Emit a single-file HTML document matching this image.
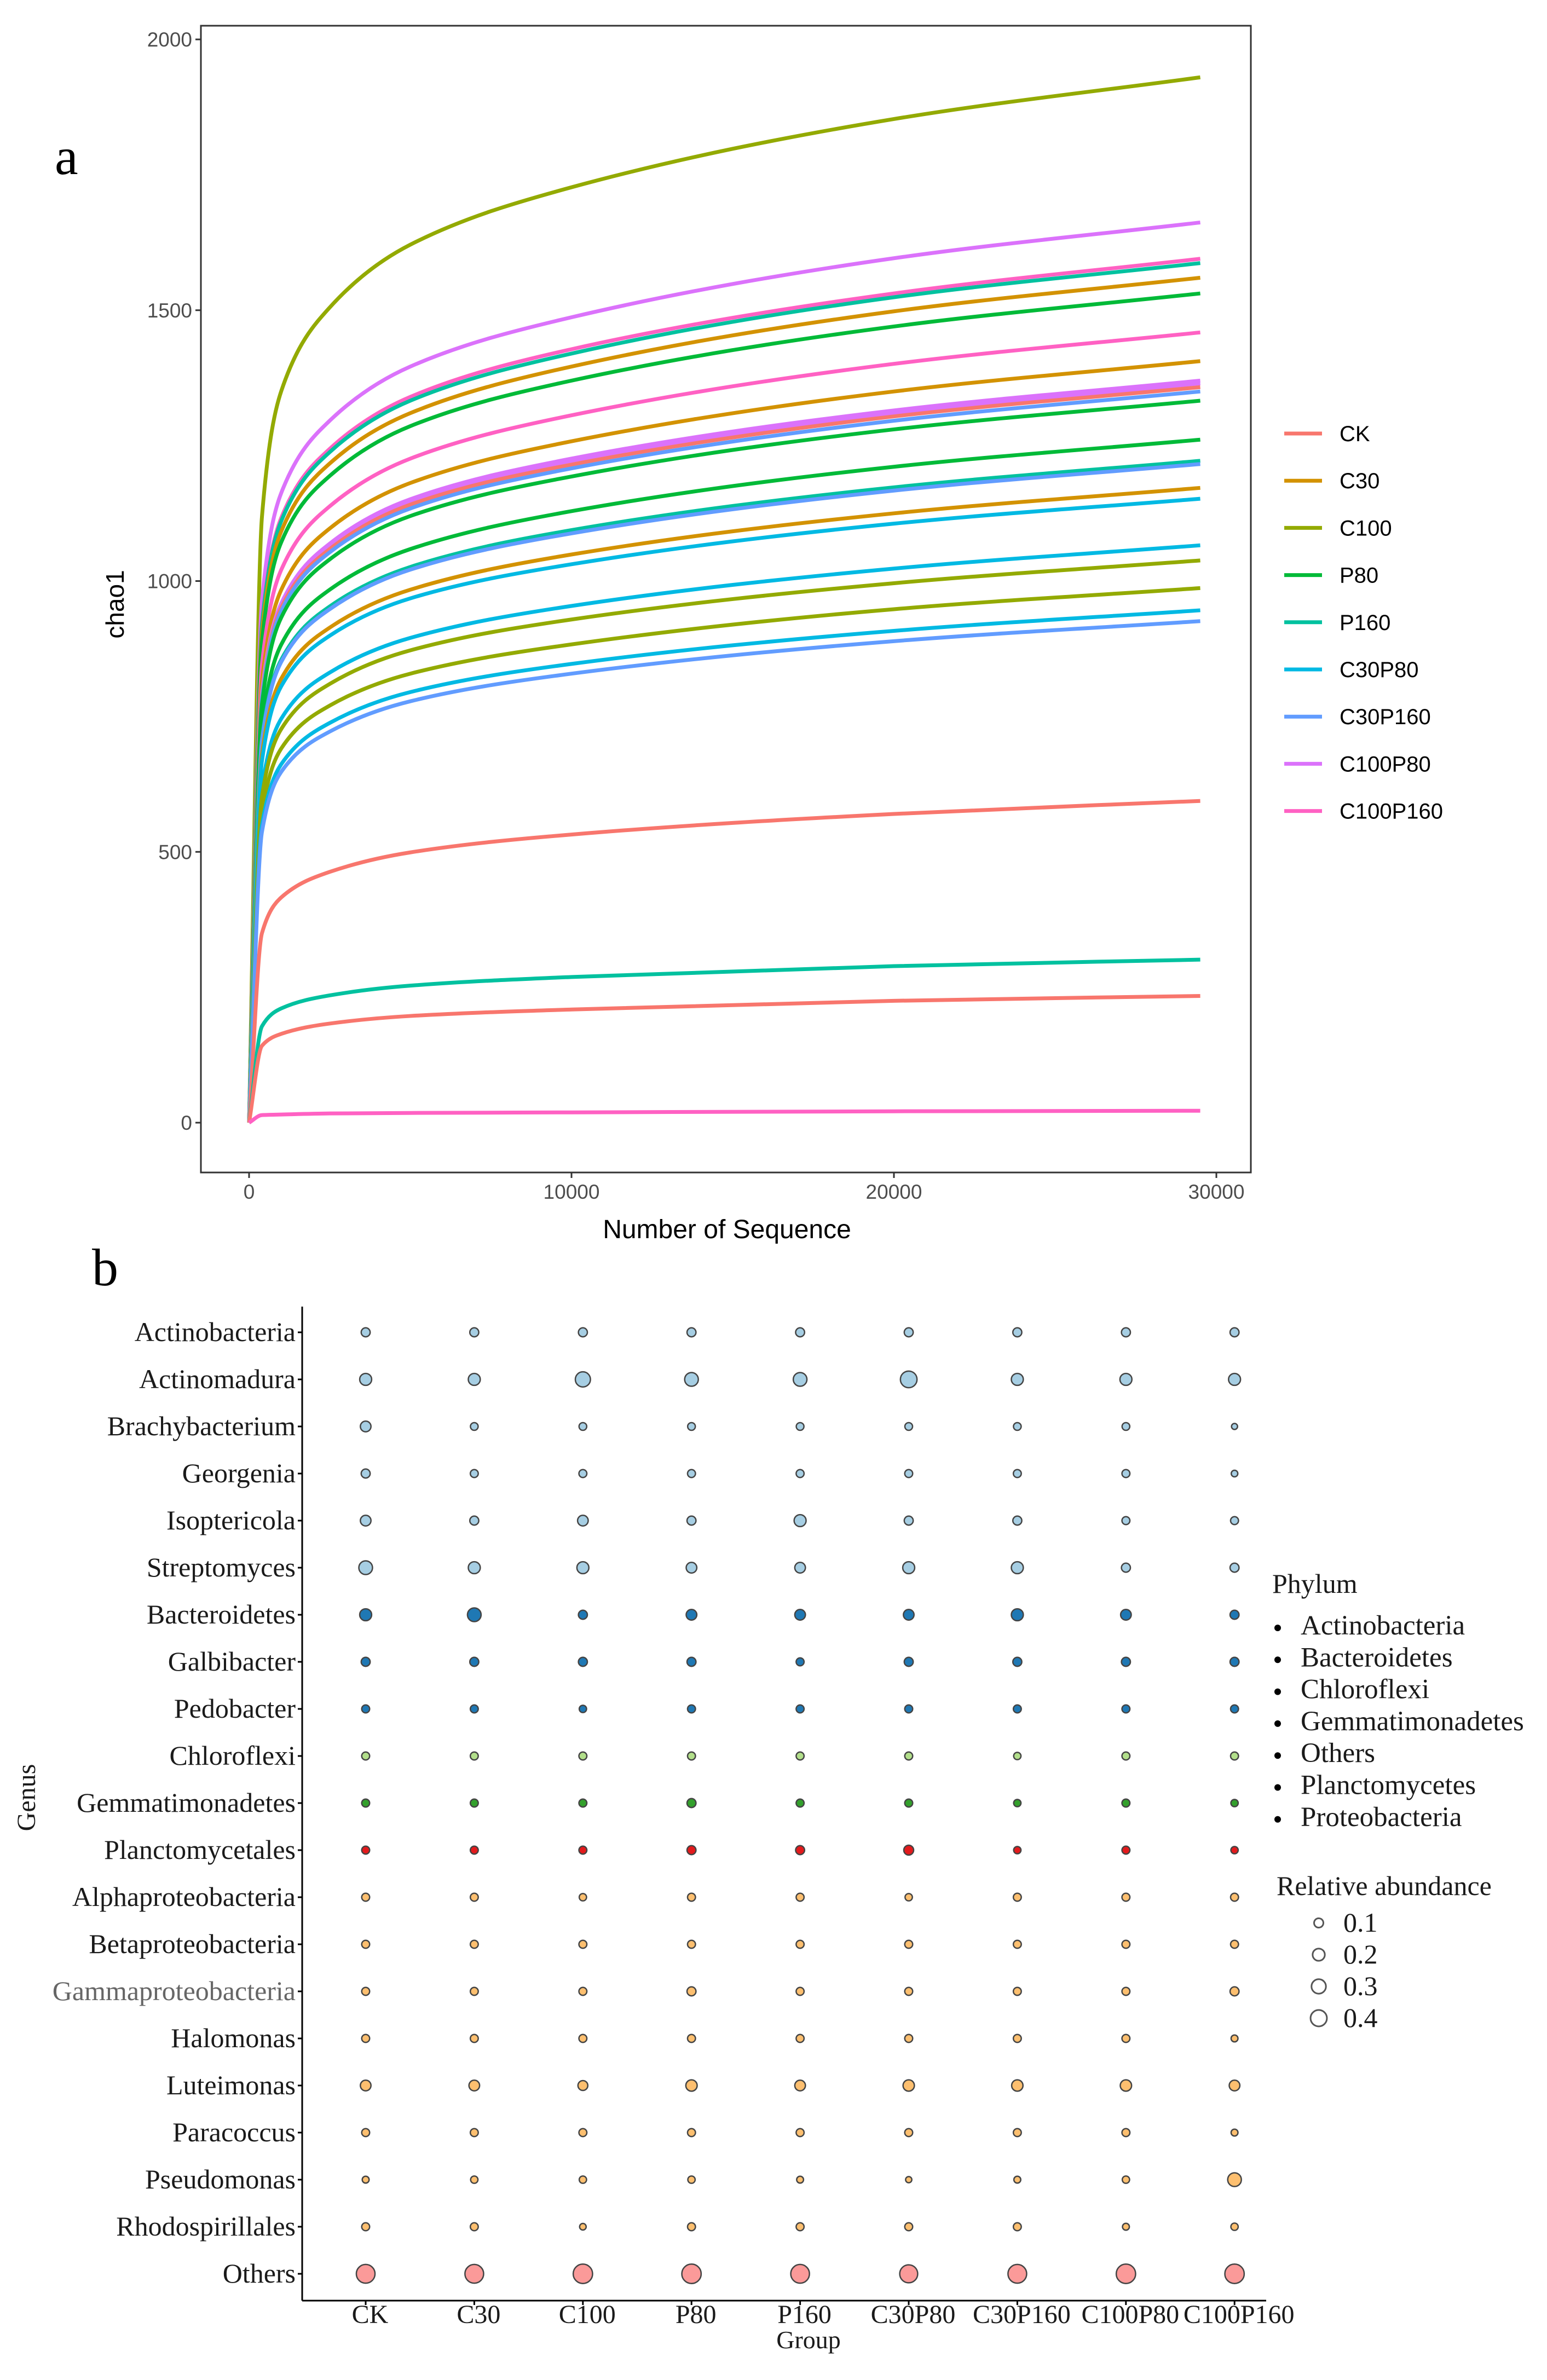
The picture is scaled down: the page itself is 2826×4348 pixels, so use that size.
<!DOCTYPE html>
<html><head><meta charset="utf-8">
<style>
html,body{margin:0;padding:0;background:#fff;}
svg{display:block;}
</style></head>
<body>
<svg id="fig" width="2826" height="4348" viewBox="0 0 2826 4348" xmlns="http://www.w3.org/2000/svg"></svg>
<script>
// ---------- Panel a data ----------
const sampleX = [0, 400, 1000, 2500, 5000, 10000, 20000, 29500];
const groups = ["CK","C30","C100","P80","P160","C30P80","C30P160","C100P80","C100P160"];
const groupColors = ["#F8766D","#D39200","#93AA00","#00BA38","#00C19F","#00B9E3","#619CFF","#DB72FB","#FF61C3"];
const seriesGroup = ["C100","C100P80","C100P160","P160","C30","P80","C100P160","C30","C100P80","C100P80","CK","C30P160","P80","P80","P160","C30P160","C30","C30P80","C30P80","C100","C100","C30P80","C30P160","CK","P160","CK","C100P160"];
const seriesValues = [
[0,1119,1351,1505,1621,1727,1853,1930],
[0,964,1163,1296,1396,1487,1596,1662],
[0,925,1117,1244,1340,1428,1531,1595],
[0,920,1111,1238,1333,1420,1524,1587],
[0,905,1092,1217,1310,1396,1498,1560],
[0,888,1072,1194,1286,1370,1470,1531],
[0,846,1021,1138,1226,1306,1401,1459],
[0,815,984,1097,1181,1258,1350,1406],
[0,795,959,1069,1151,1226,1315,1370],
[0,792,956,1065,1147,1222,1310,1365],
[0,788,951,1059,1141,1215,1304,1358],
[0,783,945,1053,1134,1208,1296,1350],
[0,773,933,1040,1120,1193,1280,1333],
[0,731,883,984,1059,1129,1211,1261],
[0,709,855,953,1026,1094,1173,1222],
[0,705,851,948,1021,1088,1167,1216],
[0,680,820,914,984,1049,1125,1172],
[0,668,806,899,968,1031,1106,1152],
[0,618,746,831,895,954,1023,1066],
[0,602,727,810,872,929,996,1038],
[0,572,691,770,829,883,948,987],
[0,549,662,738,795,847,908,946],
[0,537,648,722,778,829,889,926],
[0,350,416,463,499,532,570,594],
[0,178,211,235,253,269,289,301],
[0,142,164,183,197,209,225,234],
[0,14,15,17,18,19,21,22]
];
const xTicks = [0,10000,20000,30000];
const yTicks = [0,500,1000,1500,2000];

// ---------- Panel b data ----------
const genera = ["Actinobacteria","Actinomadura","Brachybacterium","Georgenia","Isoptericola","Streptomyces","Bacteroidetes","Galbibacter","Pedobacter","Chloroflexi","Gemmatimonadetes","Planctomycetales","Alphaproteobacteria","Betaproteobacteria","Gammaproteobacteria","Halomonas","Luteimonas","Paracoccus","Pseudomonas","Rhodospirillales","Others"];
const generaPhylum = ["Actinobacteria","Actinobacteria","Actinobacteria","Actinobacteria","Actinobacteria","Actinobacteria","Bacteroidetes","Bacteroidetes","Bacteroidetes","Chloroflexi","Gemmatimonadetes","Planctomycetes","Proteobacteria","Proteobacteria","Proteobacteria","Proteobacteria","Proteobacteria","Proteobacteria","Proteobacteria","Proteobacteria","Others"];
const phyla = ["Actinobacteria","Bacteroidetes","Chloroflexi","Gemmatimonadetes","Others","Planctomycetes","Proteobacteria"];
const phylaColors = ["#a6cee3","#1f78b4","#b2df8a","#33a02c","#fb9a99","#e31a1c","#fdbf6f"];
const abundance = [
[.03,.03,.03,.03,.03,.03,.03,.03,.03],
[.07,.07,.13,.1,.1,.165,.07,.07,.07],
[.05,.018,.018,.018,.018,.018,.018,.018,.007],
[.03,.02,.02,.02,.02,.02,.02,.02,.01],
[.05,.03,.05,.03,.07,.03,.03,.02,.02],
[.1,.07,.07,.05,.05,.07,.07,.03,.03],
[.07,.1,.03,.05,.05,.05,.07,.05,.03],
[.03,.03,.03,.03,.02,.03,.03,.03,.03],
[.02,.02,.015,.02,.02,.02,.02,.02,.02],
[.02,.02,.02,.02,.02,.02,.015,.02,.02],
[.02,.02,.02,.03,.02,.02,.015,.02,.015],
[.02,.02,.02,.03,.03,.04,.015,.02,.015],
[.02,.02,.015,.02,.02,.015,.02,.02,.02],
[.02,.02,.02,.02,.02,.02,.02,.02,.02],
[.02,.02,.02,.03,.02,.02,.02,.02,.03],
[.02,.02,.02,.02,.02,.02,.02,.02,.012],
[.05,.05,.04,.06,.05,.06,.06,.06,.05],
[.02,.02,.02,.02,.02,.02,.02,.02,.012],
[.012,.015,.015,.015,.012,.008,.012,.015,.1],
[.02,.02,.01,.02,.02,.02,.02,.012,.015],
[.22,.22,.24,.24,.22,.2,.22,.24,.24]
];
const sizeLegend = [0.1,0.2,0.3,0.4];

const NS = "http://www.w3.org/2000/svg";
const svg = document.getElementById("fig");
function mk(tag, attrs, parent, text){
  const e = document.createElementNS(NS, tag);
  for (const k in attrs) e.setAttribute(k, attrs[k]);
  if (text !== undefined) e.textContent = text;
  (parent||svg).appendChild(e);
  return e;
}

// ================= PANEL A =================
const A = {l:367, r:2285, t:47, b:2142};
const xA = v => 455 + (v/30000)*(2222-455);
const yA = v => 2051 - (v/2000)*(2051-72);
const gA = mk("g", {});


const frame = mk("rect", {x:A.l, y:A.t, width:A.r-A.l, height:A.b-A.t, fill:"none", stroke:"#333", "stroke-width":3}, gA);



yTicks.forEach(t => {
  const y = yA(t);
  const tk = mk("line", {x1:A.l-10, x2:A.l, y1:y, y2:y, stroke:"#333", "stroke-width":3}, gA);
  
  
  const lb = mk("text", {x:A.l-16, y:y+13, "text-anchor":"end", "font-family":"Liberation Sans, sans-serif", "font-size":37, fill:"#4d4d4d"}, gA, String(t));
  
  
});
xTicks.forEach(t => {
  const x = xA(t);
  const tk = mk("line", {x1:x, x2:x, y1:A.b, y2:A.b+10, stroke:"#333", "stroke-width":3}, gA);
  
  
  const lb = mk("text", {x:x, y:A.b+48, "text-anchor":"middle", "font-family":"Liberation Sans, sans-serif", "font-size":37, fill:"#4d4d4d"}, gA, String(t));
  
  
});
const xt = mk("text", {x:1328, y:2262, "text-anchor":"middle", "font-family":"Liberation Sans, sans-serif", "font-size":48, fill:"#000"}, gA, "Number of Sequence");


const yt = mk("text", {x:0, y:0, transform:"translate(226,1104) rotate(-90)", "text-anchor":"middle", "font-family":"Liberation Sans, sans-serif", "font-size":46, fill:"#000"}, gA, "chao1");


const pa = mk("text", {x:100, y:318, "font-family":"Liberation Serif, serif", "font-size":96, fill:"#000"}, gA, "a");



function monoPath(px, py){
  const n = px.length, d=[], m=[];
  for (let i=0;i<n-1;i++) d.push((py[i+1]-py[i])/(px[i+1]-px[i]));
  m[0]=d[0]; m[n-1]=d[n-2];
  for (let i=1;i<n-1;i++){
    const h0=px[i]-px[i-1], h1=px[i+1]-px[i];
    if (d[i-1]*d[i] <= 0) { m[i]=0; continue; }
    const w1=2*h1+h0, w2=h1+2*h0;
    m[i] = (w1+w2)/(w1/d[i-1]+w2/d[i]);
  }
  let s = `M${px[0]},${py[0]}`;
  for (let i=0;i<n-1;i++){
    const h=px[i+1]-px[i];
    s += ` C${px[i]+h/3},${py[i]+m[i]*h/3} ${px[i+1]-h/3},${py[i+1]-m[i+1]*h/3} ${px[i+1]},${py[i+1]}`;
  }
  return s;
}
const gCurves = mk("g", {}, gA);


seriesValues.forEach((vals, i) => {
  const px = sampleX.map(xA), py = vals.map(yA);
  const col = groupColors[groups.indexOf(seriesGroup[i])];
  const p = mk("path", {d:monoPath(px, py), fill:"none", stroke:col, "stroke-width":7, "stroke-linejoin":"round"}, gCurves);
  
  
});

const gLegA = mk("g", {}, gA);


groups.forEach((g, i) => {
  const y = 792 + i*86.2;
  const ln = mk("line", {x1:2346, x2:2415, y1:y, y2:y, stroke:groupColors[i], "stroke-width":7}, gLegA);
  
  
  const tx = mk("text", {x:2447, y:y+14, "font-family":"Liberation Sans, sans-serif", "font-size":40, fill:"#000"}, gLegA, g);
  
  
});

// ================= PANEL B =================
const gB = mk("g", {});


const xB = i => 668 + i*198.4;
const yB = i => 2434 + i*86;
const rB = v => 3 + Math.sqrt(v)*30;
const axY = mk("line", {x1:552, x2:552, y1:2387, y2:4203, stroke:"#000", "stroke-width":3}, gB);


const axX = mk("line", {x1:552, x2:2313, y1:4203, y2:4203, stroke:"#000", "stroke-width":3}, gB);


genera.forEach((g, i) => {
  const y = yB(i);
  const tk = mk("line", {x1:544, x2:552, y1:y, y2:y, stroke:"#000", "stroke-width":3}, gB);
  
  
  const lb = mk("text", {x:540, y:y+16, "text-anchor":"end", "font-family":"Liberation Serif, serif", "font-size":50, fill: g==="Gammaproteobacteria" ? "#666" : "#1a1a1a"}, gB, g);
  
  
});
groups.forEach((g, j) => {
  const x = xB(j);
  const tk = mk("line", {x1:x, x2:x, y1:4203, y2:4211, stroke:"#000", "stroke-width":3}, gB);
  
  
  const lb = mk("text", {x:x+8, y:4244, "text-anchor":"middle", "font-family":"Liberation Serif, serif", "font-size":48, fill:"#1a1a1a"}, gB, g);
  
  
});
const gt = mk("text", {x:1477, y:4290, "text-anchor":"middle", "font-family":"Liberation Serif, serif", "font-size":46, fill:"#1a1a1a"}, gB, "Group");


const gn = mk("text", {x:0, y:0, transform:"translate(64,3284) rotate(-90)", "text-anchor":"middle", "font-family":"Liberation Serif, serif", "font-size":48, fill:"#1a1a1a"}, gB, "Genus");


const pb = mk("text", {x:168, y:2348, "font-family":"Liberation Serif, serif", "font-size":96, fill:"#000"}, gB, "b");



abundance.forEach((row, i) => {
  const col = phylaColors[phyla.indexOf(generaPhylum[i])];
  row.forEach((v, j) => {
    const c = mk("circle", {cx:xB(j), cy:yB(i), r:rB(v), fill:col, stroke:"#444", "stroke-width":2.5}, gB);
    
    
  });
});

const gLegB = mk("g", {}, gB);


const ph = mk("text", {x:2324, y:2910, "font-family":"Liberation Serif, serif", "font-size":50, fill:"#1a1a1a"}, gLegB, "Phylum");


phyla.forEach((p, i) => {
  const y = 2970 + i*58.3;
  const d = mk("circle", {cx:2334, cy:y+4, r:6, fill:"#000"}, gLegB);
  
  
  const t = mk("text", {x:2376, y:y+16, "font-family":"Liberation Serif, serif", "font-size":51, fill:"#1a1a1a"}, gLegB, p);
  
  
});
const ra = mk("text", {x:2332, y:3462, "font-family":"Liberation Serif, serif", "font-size":50, fill:"#1a1a1a"}, gLegB, "Relative abundance");


sizeLegend.forEach((v, i) => {
  const y = 3513 + i*58;
  const c = mk("circle", {cx:2409, cy:y, r:rB(v)*0.68, fill:"none", stroke:"#555", "stroke-width":3}, gLegB);
  
  
  const t = mk("text", {x:2454, y:y+16, "font-family":"Liberation Serif, serif", "font-size":50, fill:"#1a1a1a"}, gLegB, String(v));
  
  
});
</script>
</body></html>
